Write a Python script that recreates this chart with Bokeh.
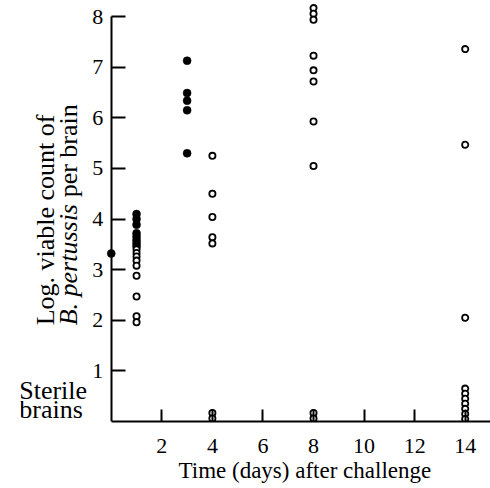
import math
from bokeh.plotting import figure
from bokeh.models import Range1d, FixedTicker, Label, Title
from bokeh.embed import file_html
from bokeh.resources import INLINE

# ---- data ----
solid_day = [0, 1, 1, 1, 1, 1, 1, 1, 1, 3, 3, 3, 3, 3]
solid_log = [3.32, 4.10, 4.00, 3.89, 3.72, 3.65, 3.58, 3.52, 3.46,
             7.13, 6.49, 6.34, 6.15, 5.30]

open_day = ([1] * 9) + ([4] * 7) + ([8] * 10) + ([14] * 10)
open_log = [3.40, 3.33, 3.26, 3.18, 3.08, 2.88, 2.47, 2.08, 1.96,
            5.25, 4.50, 4.04, 3.64, 3.52, 0.17, 0.06,
            8.17, 8.06, 7.94, 7.23, 6.94, 6.72, 5.93, 5.05, 0.17, 0.06,
            7.36, 5.47, 2.05, 0.65, 0.55, 0.45, 0.35, 0.25, 0.15, 0.05]

x_ticks = [2, 4, 6, 8, 10, 12, 14]
y_ticks = [1, 2, 3, 4, 5, 6, 7, 8]

FONT = "Liberation Serif"

p = figure(width=490, height=488,
           x_range=Range1d(-3.59, 15.0), y_range=Range1d(0, 8.32),
           output_backend="svg", toolbar_location=None,
           min_border_left=20, min_border_right=0,
           min_border_top=0, min_border_bottom=67)
p.xgrid.visible = False
p.ygrid.visible = False
p.outline_line_color = None
p.background_fill_color = "white"
p.border_fill_color = "white"

for ax in (p.xaxis[0], p.yaxis[0]):
    ax.axis_line_color = "black"
    ax.axis_line_width = 2
    ax.major_tick_line_color = "black"
    ax.major_tick_line_width = 2
    ax.minor_tick_line_color = None
    ax.major_tick_out = 0
    ax.major_label_text_font = FONT
    ax.major_label_text_font_size = "22px"
    ax.major_label_text_color = "black"

p.xaxis[0].ticker = FixedTicker(ticks=x_ticks)
p.xaxis[0].bounds = (0, 15.0)
p.xaxis[0].major_tick_in = 12
p.xaxis[0].major_label_standoff = 17

p.yaxis[0].fixed_location = 0
p.yaxis[0].ticker = FixedTicker(ticks=y_ticks)
p.yaxis[0].bounds = (0, 8)
p.yaxis[0].major_tick_in = 14
p.yaxis[0].major_label_standoff = 8

# x title in the panel below the axis, shifted to sit under the data area
p.add_layout(Title(text="Time (days) after challenge", align="left",
                   offset=158, standoff=0, text_font=FONT,
                   text_font_size="23px", text_font_style="normal",
                   text_color="black"), "below")

p.scatter(solid_day, solid_log, marker="circle", size=8,
          fill_color="black", line_color="black", line_width=0.5)
p.scatter(open_day, open_log, marker="circle", size=6.2,
          fill_color="white", line_color="black", line_width=1.8)

# y title (two lines, partly italic) and side note
ang = math.pi / 2
p.add_layout(Label(x=-2.62, y=1.90, text="Log. viable count of", angle=ang,
                   text_font=FONT, text_font_size="26px", text_color="black",
                   text_align="left", text_baseline="middle"))
p.add_layout(Label(x=-1.70, y=1.90, text="B. pertussis", angle=ang,
                   text_font=FONT, text_font_size="26px", text_color="black",
                   text_font_style="italic",
                   text_align="left", text_baseline="middle"))
p.add_layout(Label(x=-1.70, y=4.43, text="per brain", angle=ang,
                   text_font=FONT, text_font_size="26px", text_color="black",
                   text_align="left", text_baseline="middle"))

p.add_layout(Label(x=-3.64, y=0.603, text="Sterile",
                   text_font=FONT, text_font_size="26px", text_color="black",
                   text_align="left", text_baseline="middle"))
p.add_layout(Label(x=-3.64, y=0.240, text="brains",
                   text_font=FONT, text_font_size="26px", text_color="black",
                   text_align="left", text_baseline="middle"))

open("out.html", "w").write(file_html(p, INLINE))
